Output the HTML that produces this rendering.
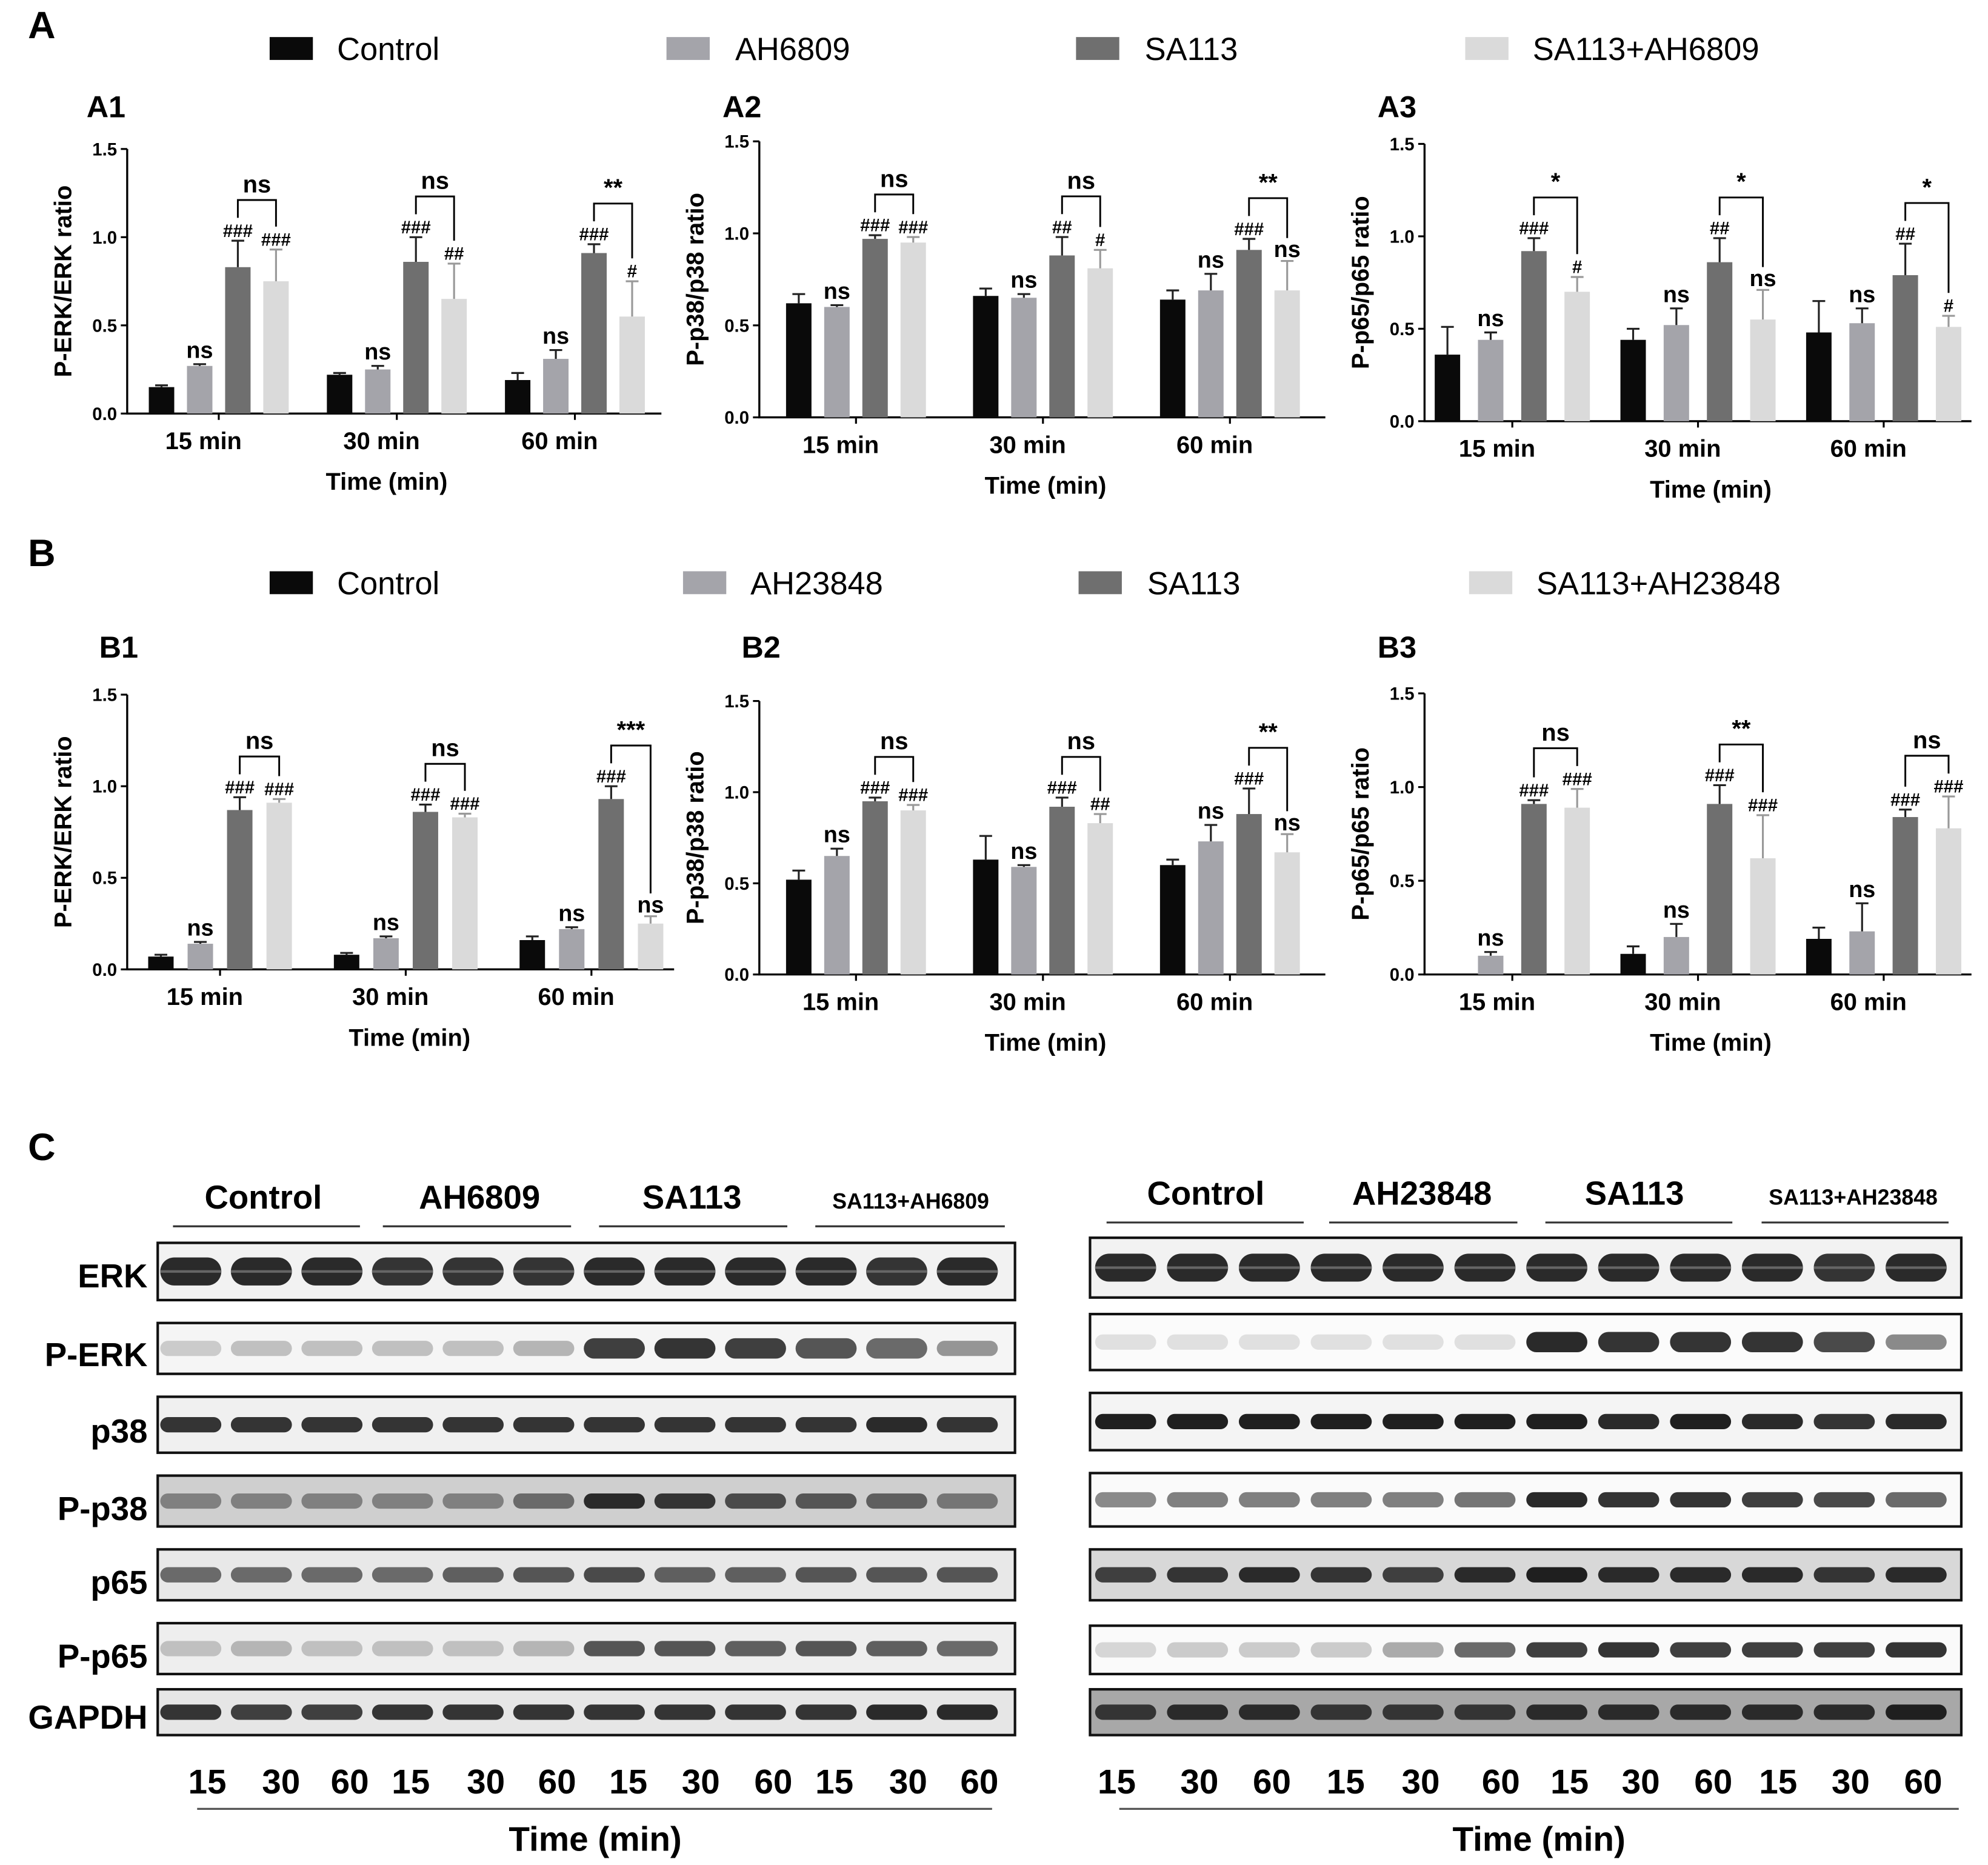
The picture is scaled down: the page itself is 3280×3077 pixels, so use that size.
<!DOCTYPE html>
<html><head><meta charset="utf-8"><style>
html,body{margin:0;padding:0;background:#fff;}
svg{display:block;font-family:"Liberation Sans",Arial,sans-serif;}
</style></head><body>
<svg id="fig" width="3280" height="3077" viewBox="0 0 1563 1466" xmlns="http://www.w3.org/2000/svg">
<rect width="1563" height="1466" fill="#fff"/>
</svg>
<script>
// ---------- data ----------
const categories = ["15 min","30 min","60 min"];
const seriesNamesA = ["Control","AH6809","SA113","SA113+AH6809"];
const seriesNamesB = ["Control","AH23848","SA113","SA113+AH23848"];
const yTicks = [0.0,0.5,1.0,1.5];
const yTickLabels = ["0.0","0.5","1.0","1.5"];

const a1Control=[0.15,0.22,0.19], a1ControlErr=[0.01,0.01,0.04];
const a1Ah=[0.27,0.25,0.31], a1AhErr=[0.01,0.02,0.05];
const a1Sa=[0.83,0.86,0.91], a1SaErr=[0.15,0.14,0.05];
const a1Combo=[0.75,0.65,0.55], a1ComboErr=[0.18,0.20,0.20];
const a1AhMarks=["ns","ns","ns"], a1SaMarks=["###","###","###"], a1ComboMarks=["###","##","#"], a1Brackets=["ns","ns","**"];

const a2Control=[0.62,0.66,0.64], a2ControlErr=[0.05,0.04,0.05];
const a2Ah=[0.60,0.65,0.69], a2AhErr=[0.01,0.02,0.09];
const a2Sa=[0.97,0.88,0.91], a2SaErr=[0.02,0.10,0.06];
const a2Combo=[0.95,0.81,0.69], a2ComboErr=[0.03,0.10,0.16];
const a2AhMarks=["ns","ns","ns"], a2SaMarks=["###","##","###"], a2ComboMarks=["###","#","ns"], a2Brackets=["ns","ns","**"];

const a3Control=[0.36,0.44,0.48], a3ControlErr=[0.15,0.06,0.17];
const a3Ah=[0.44,0.52,0.53], a3AhErr=[0.04,0.09,0.08];
const a3Sa=[0.92,0.86,0.79], a3SaErr=[0.07,0.13,0.17];
const a3Combo=[0.70,0.55,0.51], a3ComboErr=[0.08,0.16,0.06];
const a3AhMarks=["ns","ns","ns"], a3SaMarks=["###","##","##"], a3ComboMarks=["#","ns","#"], a3Brackets=["*","*","*"];

const b1Control=[0.07,0.08,0.16], b1ControlErr=[0.01,0.01,0.02];
const b1Ah=[0.14,0.17,0.22], b1AhErr=[0.01,0.01,0.01];
const b1Sa=[0.87,0.86,0.93], b1SaErr=[0.07,0.04,0.07];
const b1Combo=[0.91,0.83,0.25], b1ComboErr=[0.02,0.02,0.04];
const b1AhMarks=["ns","ns","ns"], b1SaMarks=["###","###","###"], b1ComboMarks=["###","###","ns"], b1Brackets=["ns","ns","***"];

const b2Control=[0.52,0.63,0.60], b2ControlErr=[0.05,0.13,0.03];
const b2Ah=[0.65,0.59,0.73], b2AhErr=[0.04,0.01,0.09];
const b2Sa=[0.95,0.92,0.88], b2SaErr=[0.02,0.05,0.14];
const b2Combo=[0.90,0.83,0.67], b2ComboErr=[0.03,0.05,0.10];
const b2AhMarks=["ns","ns","ns"], b2SaMarks=["###","###","###"], b2ComboMarks=["###","##","ns"], b2Brackets=["ns","ns","**"];

const b3Control=[0.0,0.11,0.19], b3ControlErr=[0.0,0.04,0.06];
const b3Ah=[0.10,0.20,0.23], b3AhErr=[0.02,0.07,0.15];
const b3Sa=[0.91,0.91,0.84], b3SaErr=[0.02,0.10,0.04];
const b3Combo=[0.89,0.62,0.78], b3ComboErr=[0.10,0.23,0.17];
const b3AhMarks=["ns","ns","ns"], b3SaMarks=["###","###","###"], b3ComboMarks=["###","###","###"], b3Brackets=["ns","**","ns"];

// blot band intensities (0..1), 12 lanes
const blotRows=["ERK","P-ERK","p38","P-p38","p65","P-p65","GAPDH"];
const blotLeft=[[0.9,0.9,0.9,0.85,0.85,0.85,0.9,0.9,0.9,0.9,0.85,0.9],
 [0.15,0.2,0.2,0.2,0.2,0.25,0.8,0.85,0.8,0.7,0.6,0.4],
 [0.85,0.85,0.85,0.85,0.85,0.85,0.85,0.85,0.85,0.85,0.9,0.85],
 [0.5,0.5,0.5,0.5,0.5,0.6,0.9,0.85,0.75,0.7,0.65,0.55],
 [0.6,0.6,0.6,0.6,0.65,0.7,0.75,0.65,0.65,0.7,0.7,0.7],
 [0.2,0.25,0.2,0.2,0.2,0.25,0.7,0.7,0.65,0.7,0.65,0.6],
 [0.85,0.8,0.8,0.85,0.85,0.85,0.85,0.85,0.85,0.85,0.9,0.9]];
const blotRight=[[0.9,0.9,0.9,0.9,0.9,0.9,0.9,0.9,0.9,0.9,0.85,0.9],
 [0.05,0.05,0.05,0.05,0.05,0.05,0.9,0.85,0.85,0.85,0.75,0.45],
 [0.95,0.95,0.95,0.95,0.95,0.95,0.95,0.9,0.95,0.9,0.85,0.9],
 [0.45,0.5,0.5,0.5,0.5,0.55,0.9,0.85,0.85,0.8,0.75,0.6],
 [0.8,0.85,0.9,0.85,0.8,0.9,0.95,0.9,0.9,0.9,0.85,0.9],
 [0.1,0.15,0.15,0.15,0.3,0.6,0.8,0.85,0.8,0.8,0.8,0.85],
 [0.85,0.9,0.9,0.85,0.85,0.85,0.9,0.9,0.9,0.9,0.9,0.95]];
const laneLabels=["15","30","60","15","30","60","15","30","60","15","30","60"];

// ---------- helpers ----------
const svg=document.getElementById('fig');
const NS="http://www.w3.org/2000/svg";
function el(tag,attrs,parent){const e=document.createElementNS(NS,tag);for(const k in attrs)e.setAttribute(k,attrs[k]);(parent||svg).appendChild(e);return e;}
function txt(s,x,y,size,anchor,parent,weight){const t=el('text',{x:x,y:y,'font-size':size,'text-anchor':anchor||'middle','font-weight':weight||'bold',fill:'#000'},parent);t.textContent=s;return t;}
const colors=["#0a0a0a","#a4a4aa","#6f6f6f","#dadada"];

function chart(cfg){
  const g=el('g',{});
  
  
  const ys=v=>cfg.y0-(v/1.5)*(cfg.y0-cfg.y15);
  const xs=i=>cfg.c0+i*cfg.step;
  const ax=el('path',{d:`M${cfg.ax},${cfg.y15} V${cfg.y0} H${cfg.axEnd}`,stroke:'#000','stroke-width':1.6,fill:'none'},g);
  
  
  yTicks.forEach((t,i)=>{
    el('line',{x1:cfg.ax-5,x2:cfg.ax,y1:ys(t),y2:ys(t),stroke:'#000','stroke-width':1.5},g);
    const tl=txt(yTickLabels[i],cfg.ax-8,ys(t)+5,14,'end',g);
    
    
  });
  const yl=txt(cfg.ylabel,0,0,19,'middle',g);
  yl.setAttribute('transform',`translate(${cfg.ax-44},${(cfg.y0+cfg.y15)/2}) rotate(-90)`);
  
  
  const vals=[cfg.s[0],cfg.s[1],cfg.s[2],cfg.s[3]], errs=[cfg.e[0],cfg.e[1],cfg.e[2],cfg.e[3]];
  categories.forEach((c,i)=>{
    const cx=xs(i);
    const cl=txt(c,cx-12,cfg.y0+28,19,'middle',g);
    
    
    el('line',{x1:cx,x2:cx,y1:cfg.y0,y2:cfg.y0+5,stroke:'#000','stroke-width':1.5},g);
    const bx=[];
    for(let s=0;s<4;s++){
      const x=cx+(s-1.5)*cfg.bs-10, v=vals[s][i], er=errs[s][i];
      bx.push(x+10);
      const b=el('rect',{x:x,y:ys(v),width:20,height:cfg.y0-ys(v),fill:colors[s]},g);
      
      
      if(er>0){
        el('line',{x1:x+10,x2:x+10,y1:ys(v),y2:ys(v+er),stroke:colors[s]==="#dadada"?'#999':'#222','stroke-width':1.5},g);
        el('line',{x1:x+5,x2:x+15,y1:ys(v+er),y2:ys(v+er),stroke:colors[s]==="#dadada"?'#999':'#222','stroke-width':1.5},g);
      }
    }
    const tAh=ys(vals[1][i]+errs[1][i]), tSa=ys(vals[2][i]+errs[2][i]), tC=ys(vals[3][i]+errs[3][i]);
    const m1=txt(cfg.m[0][i],bx[1],tAh-5,cfg.m[0][i]==='ns'?18:14,'middle',g);
     
    const m2=txt(cfg.m[1][i],bx[2],tSa-3,cfg.m[1][i]==='ns'?18:14,'middle',g);
     
    const m3=txt(cfg.m[2][i],bx[3],tC-3,cfg.m[2][i]==='ns'?18:14,'middle',g);
     
    const top=Math.min(tSa,tC)-32;
    el('path',{d:`M${bx[2]},${tSa-18} V${top} H${bx[3]} V${tC-18}`,stroke:'#000','stroke-width':1.4,fill:'none'},g);
    const br=txt(cfg.br[i],(bx[2]+bx[3])/2,top-6,19,'middle',g);
    
    
  });
  const xt=txt('Time (min)',cfg.tx,cfg.y0+60,19,'middle',g);
  
  
}

chart({name:'chart-a1',ax:100,axEnd:520,y0:325,y15:117,c0:172,step:140,bs:30,tx:304,ylabel:'P-ERK/ERK ratio',
  s:[a1Control,a1Ah,a1Sa,a1Combo],e:[a1ControlErr,a1AhErr,a1SaErr,a1ComboErr],m:[a1AhMarks,a1SaMarks,a1ComboMarks],br:a1Brackets});
chart({name:'chart-a2',ax:597,axEnd:1042,y0:328,y15:111,c0:673,step:147,bs:30,tx:822,ylabel:'P-p38/p38 ratio',
  s:[a2Control,a2Ah,a2Sa,a2Combo],e:[a2ControlErr,a2AhErr,a2SaErr,a2ComboErr],m:[a2AhMarks,a2SaMarks,a2ComboMarks],br:a2Brackets});
chart({name:'chart-a3',ax:1120,axEnd:1550,y0:331,y15:113,c0:1189,step:146,bs:34,tx:1345,ylabel:'P-p65/p65 ratio',
  s:[a3Control,a3Ah,a3Sa,a3Combo],e:[a3ControlErr,a3AhErr,a3SaErr,a3ComboErr],m:[a3AhMarks,a3SaMarks,a3ComboMarks],br:a3Brackets});
chart({name:'chart-b1',ax:100,axEnd:530,y0:762,y15:546,c0:173,step:146,bs:31,tx:322,ylabel:'P-ERK/ERK ratio',
  s:[b1Control,b1Ah,b1Sa,b1Combo],e:[b1ControlErr,b1AhErr,b1SaErr,b1ComboErr],m:[b1AhMarks,b1SaMarks,b1ComboMarks],br:b1Brackets});
chart({name:'chart-b2',ax:597,axEnd:1042,y0:766,y15:551,c0:673,step:147,bs:30,tx:822,ylabel:'P-p38/p38 ratio',
  s:[b2Control,b2Ah,b2Sa,b2Combo],e:[b2ControlErr,b2AhErr,b2SaErr,b2ComboErr],m:[b2AhMarks,b2SaMarks,b2ComboMarks],br:b2Brackets});
chart({name:'chart-b3',ax:1120,axEnd:1550,y0:766,y15:545,c0:1189,step:146,bs:34,tx:1345,ylabel:'P-p65/p65 ratio',
  s:[b3Control,b3Ah,b3Sa,b3Combo],e:[b3ControlErr,b3AhErr,b3SaErr,b3ComboErr],m:[b3AhMarks,b3SaMarks,b3ComboMarks],br:b3Brackets});

[["A",22,30,30],["A1",68,92,24],["A2",568,92,24],["A3",1083,92,24],["B",22,445,30],["B1",78,517,24],["B2",583,517,24],["B3",1083,517,24],["C",22,912,30]].forEach(p=>{
  const t=txt(p[0],p[1],p[2],p[3],'start');
  
  
});

function legend(names,y,sq,tx){
  names.forEach((n,i)=>{
    const r=el('rect',{x:sq[i],y:y-9,width:34,height:18,fill:colors[i]});
    
    
    const t=txt(n,tx[i],y+9,25,'start',svg,'normal');
    
    
  });
}
legend(seriesNamesA,38,[212,524,846,1152],[265,578,900,1205]);
legend(seriesNamesB,458,[212,537,848,1155],[265,590,902,1208]);

function blot(x0,x1,rowsY,data,headers,hx,ulines,lanesX,labelX,name,dark){
  const g=el('g',{});
  
  
  headers.forEach((h,i)=>{
    const t=txt(h,hx[i],rowsY.hy,h.length>8?17:26,'middle',g);
    
    
    el('line',{x1:ulines[i][0],x2:ulines[i][1],y1:rowsY.uy,y2:rowsY.uy,stroke:'#333','stroke-width':1.5},g);
  });
  rowsY.rows.forEach((r,ri)=>{
    const bg=dark[ri];
    const box=el('rect',{x:x0,y:r[0],width:x1-x0,height:r[1]-r[0],fill:bg,stroke:'#111','stroke-width':2},g);
    
    
    const cy=(r[0]+r[1])/2;
    data[ri].forEach((v,li)=>{
      const shade=Math.round(235-v*215);
      const h=ri===0?22:(ri===1&&v>0.5?16:12);
      el('rect',{x:lanesX[li]-24,y:cy-h/2,width:48,height:h,rx:h/2,fill:`rgb(${shade},${shade},${shade})`},g);
      if(ri===0) el('rect',{x:lanesX[li]-24,y:cy-1,width:48,height:2,fill:'#666'},g);
    });
  });
  laneLabels.forEach((l,i)=>{
    const t=txt(l,labelX[i],1410,27,'middle',g,'bold');
    
    
  });
}
const leftLanes=[163,221,275,323,382,438,494,551,608,656,714,770];
const rightLanes=[878,943,1000,1058,1117,1180,1234,1290,1347,1398,1455,1512];
blot(124,798,{hy:950,uy:964,rows:[[977,1022],[1040,1080],[1098,1142],[1160,1200],[1218,1258],[1276,1316],[1328,1364]]},
  blotLeft,["Control","AH6809","SA113","SA113+AH6809"],[207,377,544,716],[[136,283],[301,449],[471,619],[641,790]],
  leftLanes.map((x,i)=>150+i*55.5),leftLanes,'western-blot-left',
  ['#f2f2f2','#f5f5f5','#f0f0f0','#cfcfcf','#e8e8e8','#eeeeee','#e6e6e6']);
blot(857,1542,{hy:947,uy:961,rows:[[973,1020],[1033,1077],[1095,1140],[1158,1200],[1218,1258],[1278,1316],[1328,1364]]},
  blotRight,["Control","AH23848","SA113","SA113+AH23848"],[948,1118,1285,1457],[[870,1025],[1045,1193],[1215,1362],[1385,1532]],
  rightLanes.map((x,i)=>885+i*56.5),rightLanes,'western-blot-right',
  ['#f2f2f2','#fbfbfb','#f4f4f4','#fafafa','#d8d8d8','#fafafa','#a8a8a8']);
[["ERK",1003],["P-ERK",1065],["p38",1125],["P-p38",1186],["p65",1244],["P-p65",1302],["GAPDH",1350]].forEach(r=>{
  const t=txt(r[0],116,r[1]+9,26,'end');
  
  
});
el('line',{x1:155,x2:780,y1:1422,y2:1422,stroke:'#555','stroke-width':1.5});
el('line',{x1:880,x2:1540,y1:1422,y2:1422,stroke:'#555','stroke-width':1.5});
[[468,1455],[1210,1455]].forEach(p=>{
  const t=txt('Time (min)',p[0],p[1],27,'middle');
  
  
});
</script>
</body></html>
